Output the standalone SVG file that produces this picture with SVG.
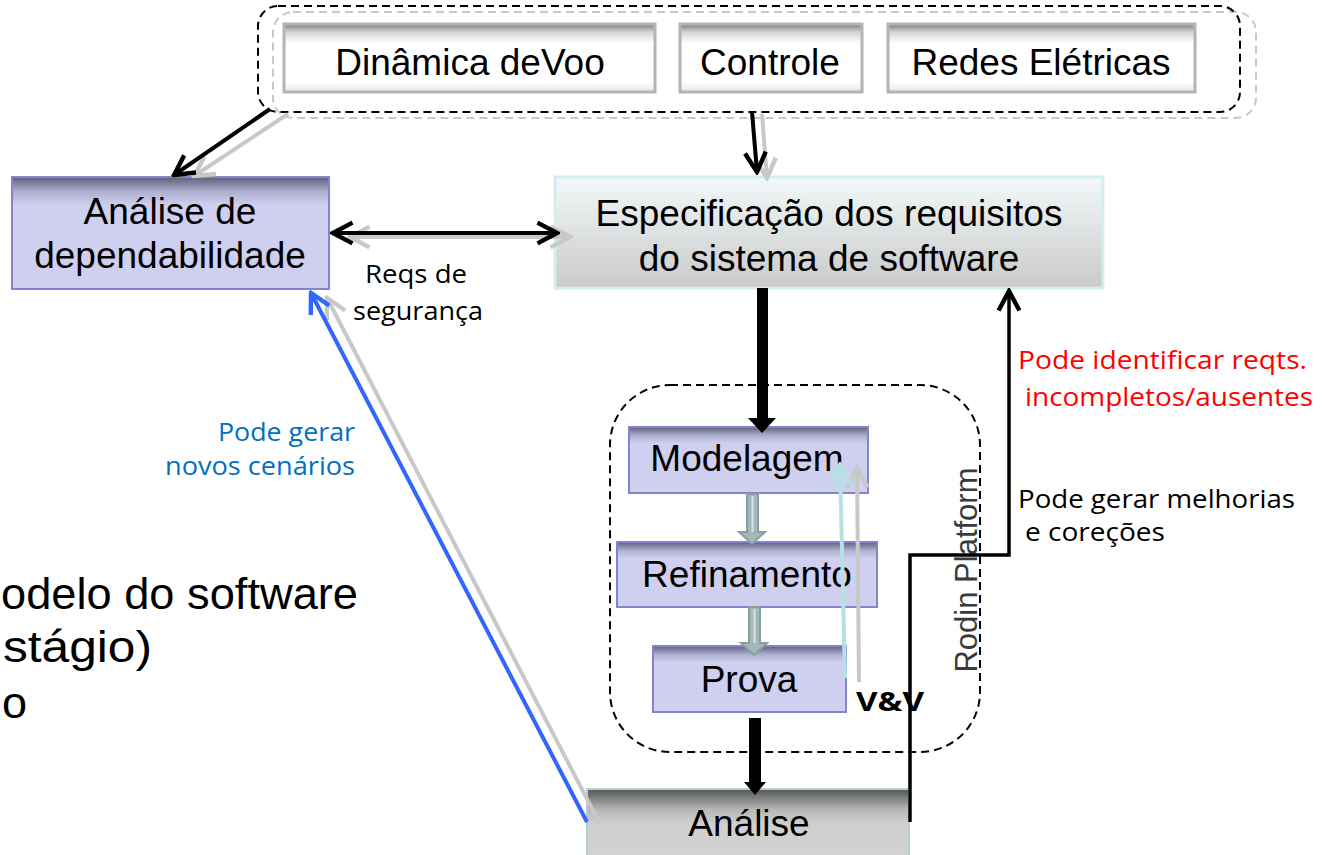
<svg xmlns="http://www.w3.org/2000/svg" width="1322" height="855" viewBox="0 0 1322 855">
<style>
.big{font-family:"Liberation Sans",Arial,sans-serif;font-size:37px;fill:#000;text-anchor:middle}
.lbl{font-family:"Open Sans","Noto Sans",sans-serif;font-size:26px;fill:#000}
.blue{fill:#0070c0}
.red{fill:#ff0000}
.dashB{fill:none;stroke:#000;stroke-width:2;stroke-dasharray:8 5}
.dashG{fill:none;stroke:#c8c8c8;stroke-width:2;stroke-dasharray:8 5}
.topbox{fill:url(#gTop);stroke:#b4b4b4;stroke-width:3}
.lav{fill:url(#gLav);stroke:#8484cc;stroke-width:2}
.ln{fill:none;stroke-width:4}
</style>
<defs>
<linearGradient id="gTop" x1="0" y1="0" x2="0" y2="1">
<stop offset="0" stop-color="#7a7a7a"/>
<stop offset="0.12" stop-color="#d4d4d4"/>
<stop offset="0.28" stop-color="#ffffff"/>
<stop offset="0.85" stop-color="#ffffff"/>
<stop offset="1" stop-color="#e6e6e6"/>
</linearGradient>
<linearGradient id="gLav" x1="0" y1="0" x2="0" y2="1">
<stop offset="0" stop-color="#5e5e7a"/>
<stop offset="0.13" stop-color="#aeafd0"/>
<stop offset="0.25" stop-color="#cfd0ef"/>
<stop offset="1" stop-color="#cfd0ef"/>
</linearGradient>
<linearGradient id="gSpec" x1="0" y1="0" x2="0" y2="1">
<stop offset="0" stop-color="#f2f8f8"/>
<stop offset="1" stop-color="#cacaca"/>
</linearGradient>
<linearGradient id="gAnal" x1="0" y1="0" x2="0" y2="1">
<stop offset="0" stop-color="#555555"/>
<stop offset="0.3" stop-color="#b8b8b8"/>
<stop offset="0.5" stop-color="#cfcfcf"/>
<stop offset="1" stop-color="#d2d2d2"/>
</linearGradient>
<marker id="cB" viewBox="0 0 20 20" refX="18" refY="10" markerUnits="userSpaceOnUse" markerWidth="26" markerHeight="26" orient="auto-start-reverse">
<path d="M3,2 L18,10 L3,18" fill="none" stroke="#000" stroke-width="3.4"/>
</marker>
<marker id="cG" viewBox="0 0 20 20" refX="18" refY="10" markerUnits="userSpaceOnUse" markerWidth="26" markerHeight="26" orient="auto-start-reverse">
<path d="M3,2 L18,10 L3,18" fill="none" stroke="#c8c8c8" stroke-width="3.4"/>
</marker>
<marker id="cBl" viewBox="0 0 20 20" refX="18" refY="10" markerUnits="userSpaceOnUse" markerWidth="26" markerHeight="26" orient="auto">
<path d="M3,2 L18,10 L3,18" fill="none" stroke="#3366ff" stroke-width="3.4"/>
</marker>
<marker id="cC" viewBox="0 0 20 20" refX="18" refY="10" markerUnits="userSpaceOnUse" markerWidth="26" markerHeight="26" orient="auto">
<path d="M3,2 L18,10 L3,18" fill="none" stroke="#b4e2e2" stroke-width="3.4"/>
</marker>
</defs>
<rect width="1322" height="855" fill="#fff"/>

<!-- background text fragments -->
<g id="bg-text" font-family="Liberation Sans, Arial, sans-serif" font-size="45" fill="#000">
<text x="1" y="609" textLength="357" lengthAdjust="spacingAndGlyphs">odelo do software</text>
<text x="3" y="662" textLength="149" lengthAdjust="spacingAndGlyphs">stágio)</text>
<text x="2" y="718">o</text>
</g>

<!-- containers -->
<g id="domains-container">
<rect class="dashG" x="273" y="12" width="983" height="106" rx="20"/>
<rect class="dashB" x="258" y="6" width="982" height="106" rx="20"/>
</g>
<g id="rodin-platform">
<rect class="dashB" x="610" y="385" width="370" height="367" rx="60"/>
<text transform="translate(977,570) rotate(-90)" font-family="Liberation Sans, Arial, sans-serif" font-size="31" fill="#3a3a3a" text-anchor="middle">Rodin Platform</text>
</g>

<!-- nodes -->
<g id="dinamica">
<rect class="topbox" x="284" y="24" width="371" height="68"/>
<text class="big" x="470" y="75">Dinâmica deVoo</text>
</g>
<g id="controle">
<rect class="topbox" x="680" y="24" width="182" height="68"/>
<text class="big" x="770" y="75">Controle</text>
</g>
<g id="redes">
<rect class="topbox" x="888" y="24" width="307" height="68"/>
<text class="big" x="1041" y="75">Redes Elétricas</text>
</g>
<g id="analise-dep">
<rect class="lav" x="12" y="177" width="317" height="112"/>
<text class="big" x="170" y="224">Análise de</text>
<text class="big" x="170" y="268">dependabilidade</text>
</g>
<g id="especificacao">
<rect x="555" y="177" width="548" height="111" fill="url(#gSpec)" stroke="#d2eef0" stroke-width="3"/>
<text class="big" x="829" y="226">Especificação dos requisitos</text>
<text class="big" x="829" y="271">do sistema de software</text>
</g>
<g id="modelagem">
<rect class="lav" x="629" y="427" width="239" height="66"/>
<text class="big" x="747" y="471">Modelagem</text>
</g>
<g id="refinamento">
<rect class="lav" x="617" y="542" width="260" height="65"/>
<text class="big" x="747" y="587">Refinamento</text>
</g>
<g id="prova">
<rect class="lav" x="653" y="646" width="193" height="66"/>
<text class="big" x="749" y="692">Prova</text>
</g>
<g id="analise">
<rect x="587" y="789" width="322" height="70" fill="url(#gAnal)" stroke="#b8d0d0" stroke-width="2"/>
<text class="big" x="749" y="836">Análise</text>
</g>

<!-- connectors -->
<g id="connectors">
<line class="ln" x1="288" y1="114" x2="194" y2="176" stroke="#c8c8c8" marker-end="url(#cG)"/>
<line class="ln" x1="270" y1="109" x2="174" y2="175" stroke="#000" marker-end="url(#cB)"/>
<line class="ln" x1="762" y1="114" x2="767" y2="178" stroke="#c8c8c8" marker-end="url(#cG)"/>
<line class="ln" x1="752" y1="112" x2="757" y2="172" stroke="#000" marker-end="url(#cB)"/>
<line class="ln" x1="350" y1="237" x2="570" y2="237" stroke="#c8c8c8" marker-start="url(#cG)" marker-end="url(#cG)"/>
<line class="ln" x1="333" y1="233" x2="557" y2="233" stroke="#000" marker-start="url(#cB)" marker-end="url(#cB)"/>
<path d="M757,288 L768,288 L768,418 L776,418 L762,433 L748,418 L757,418 Z" fill="#000"/>
<path d="M747,494 L758,494 L758,532 L765,532 L752,544 L739,532 L747,532 Z" fill="#a3b8b8" stroke="#86a0a0" stroke-width="2"/>
<line x1="752.5" y1="496" x2="752.5" y2="532" stroke="#d8e4e4" stroke-width="2"/>
<path d="M749,607 L760,607 L760,643 L767,643 L754,655 L741,643 L749,643 Z" fill="#a3b8b8" stroke="#86a0a0" stroke-width="2"/>
<line x1="754.5" y1="609" x2="754.5" y2="643" stroke="#d8e4e4" stroke-width="2"/>
<path d="M749,718 L761,718 L761,782 L766,782 L755,795 L744,782 L749,782 Z" fill="#000"/>
<line class="ln" x1="859" y1="682" x2="857" y2="468" stroke="#c8c8c8" marker-end="url(#cG)"/>
<line class="ln" x1="845" y1="678" x2="840" y2="465" stroke="#b4e2e2" marker-end="url(#cC)"/>
<line class="ln" x1="601" y1="826" x2="327" y2="298" stroke="#c8c8c8" marker-end="url(#cG)"/>
<line class="ln" x1="587" y1="822" x2="311" y2="293" stroke="#3366ff" marker-end="url(#cBl)"/>
<polyline points="910,822 910,555 1009,555 1009,291" fill="none" stroke="#000" stroke-width="3.5" marker-end="url(#cB)"/>
</g>

<!-- edge labels -->
<g id="labels">
<text class="lbl" x="365" y="283" textLength="102" lengthAdjust="spacingAndGlyphs">Reqs de</text>
<text class="lbl" x="353" y="320" textLength="130" lengthAdjust="spacingAndGlyphs">segurança</text>
<text class="lbl blue" x="218" y="441" textLength="137" lengthAdjust="spacingAndGlyphs">Pode gerar</text>
<text class="lbl blue" x="165" y="475" textLength="190" lengthAdjust="spacingAndGlyphs">novos cenários</text>
<text class="lbl red" x="1018" y="369" textLength="289" lengthAdjust="spacingAndGlyphs">Pode identificar reqts.</text>
<text class="lbl red" x="1025" y="406" textLength="288" lengthAdjust="spacingAndGlyphs">incompletos/ausentes</text>
<text class="lbl" x="1018" y="508" textLength="277" lengthAdjust="spacingAndGlyphs">Pode gerar melhorias</text>
<text class="lbl" x="1025" y="541" textLength="140" lengthAdjust="spacingAndGlyphs">e coreções</text>
<text class="lbl" x="856" y="711" font-weight="bold" font-size="30" textLength="68" lengthAdjust="spacingAndGlyphs">V&amp;V</text>
</g>
</svg>
